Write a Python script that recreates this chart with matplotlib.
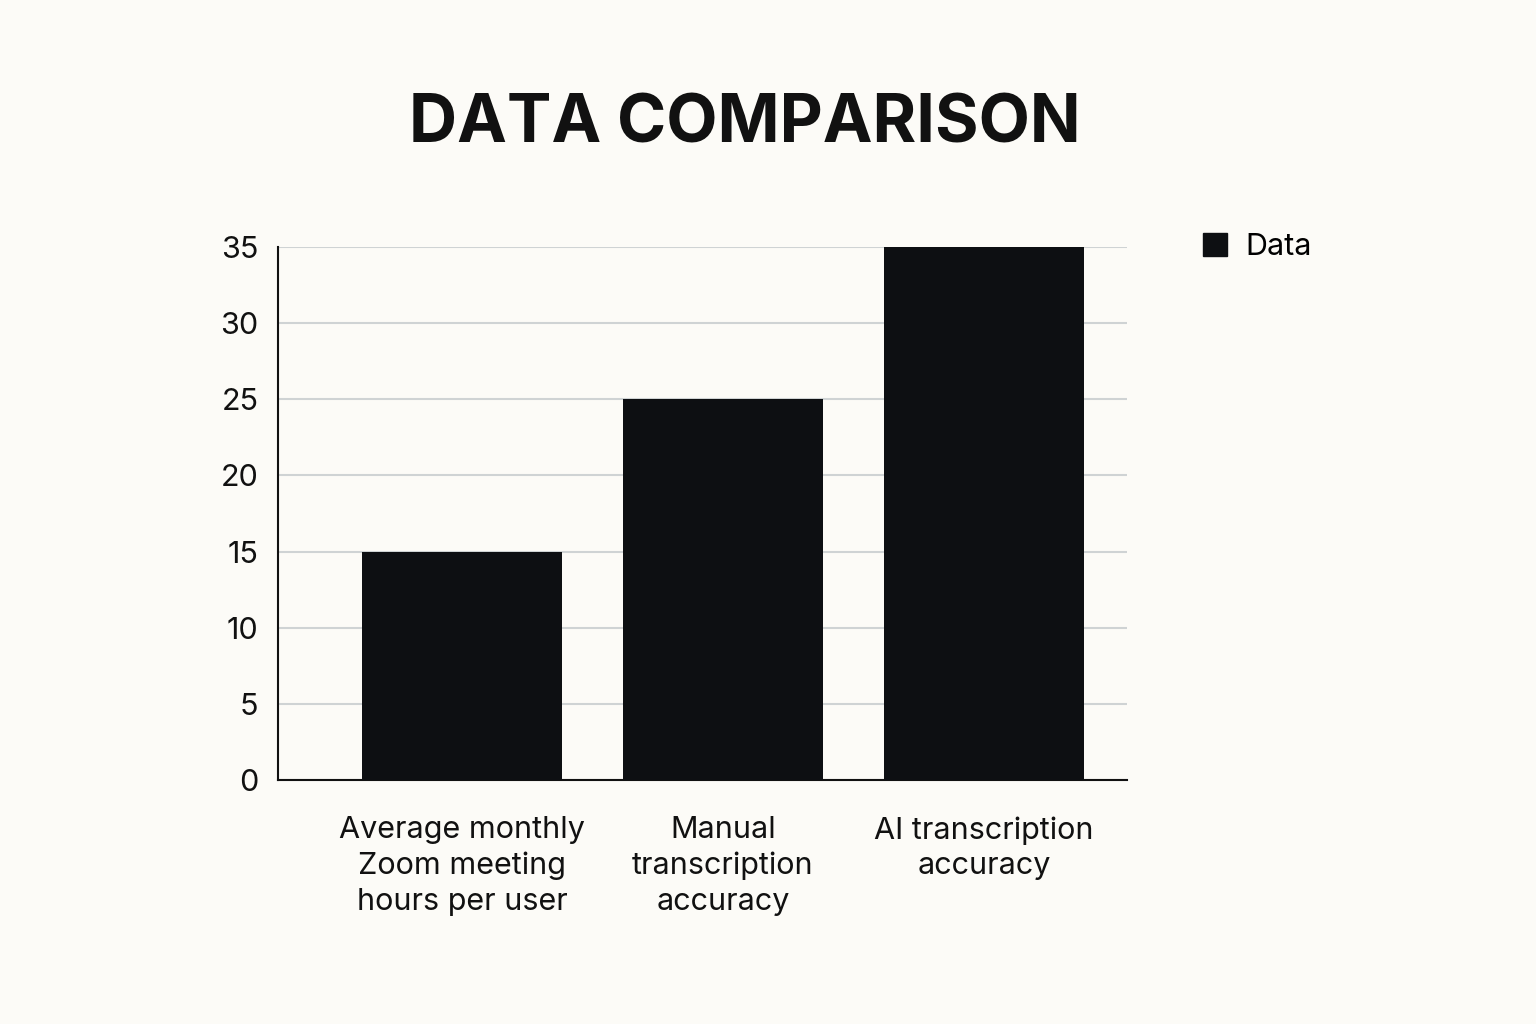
import matplotlib
matplotlib.use("Agg")
import matplotlib.pyplot as plt
from matplotlib.patches import Patch

categories = ["Average monthly\nZoom meeting\nhours per user", "Manual\ntranscription\naccuracy", "AI transcription\naccuracy"]
values = [15, 25, 35]
yticks = [0, 5, 10, 15, 20, 25, 30, 35]

plt.rcParams['font.family'] = ['Inter', 'DejaVu Sans']
bg = "#FCFBF7"
fig = plt.figure(figsize=(15.36, 10.24), dpi=100, facecolor=bg)
ax = fig.add_axes([278/1536, 1-780/1024, (1127-278)/1536, (780-247)/1024], facecolor=bg)
x = list(range(len(categories)))
ax.bar(x, values, width=0.766, color="#0d0f12", label="Data", zorder=3)
ax.set_xlim(-0.705, 2.548)
ax.set_ylim(0, 35)
ax.set_yticks(yticks)
ax.set_yticklabels([str(t) for t in yticks], fontsize=22, color="#111")
ax.set_xticks(x)
ax.set_xticklabels(categories, fontsize=22, color="#111", linespacing=1.35)
ax.tick_params(axis='both', length=0, pad=14)
ax.tick_params(axis='x', pad=26)
ax.grid(axis='y', color="#cfd3d4", linewidth=1.5, zorder=0)
for s in ["top", "right"]:
    ax.spines[s].set_visible(False)
ax.spines["left"].set_color("#111")
ax.spines["bottom"].set_color("#111")
ax.spines["left"].set_linewidth(1.5)
ax.spines["bottom"].set_linewidth(1.5)
fig.text(745/1536, 1-125/1024, "DATA COMPARISON", fontsize=48, fontweight="bold",
         ha="center", va="center", color="#111")
fig.legend(handles=[Patch(color="#0d0f12", label="Data")], loc="center left",
           bbox_to_anchor=(1175/1536, 1-247/1024), frameon=False, fontsize=22,
           handlelength=0.8, handleheight=0.8, handletextpad=0.6)
fig.savefig("out.png", dpi=100, facecolor=bg)
